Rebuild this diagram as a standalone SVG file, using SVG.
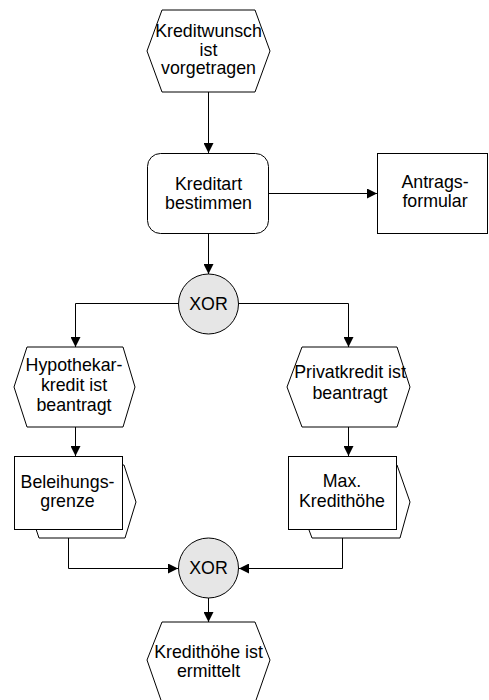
<svg xmlns="http://www.w3.org/2000/svg" width="489" height="700" viewBox="0 0 489 700">
  <style>
    .shape { fill: #ffffff; stroke: #000000; stroke-width: 1; }
    .gate { fill: #e6e6e6; stroke: #000000; stroke-width: 1; }
    .conn { fill: none; stroke: #000000; stroke-width: 1; }
    text { font-family: "Liberation Sans", Arial, sans-serif; font-size: 17.8px; fill: #000000; text-anchor: middle; }
  </style>
  <defs>
    <marker id="arrow" markerUnits="userSpaceOnUse" markerWidth="10" markerHeight="10" refX="10" refY="5" orient="auto">
      <path d="M0,0 L10,5 L0,10 z" fill="#000000"/>
    </marker>
  </defs>
  <rect width="489" height="700" fill="#ffffff"/>

  <g id="connectors">
    <path class="conn" d="M208.5,92 L208.5,153" marker-end="url(#arrow)"/>
    <path class="conn" d="M269,193.5 L377,193.5" marker-end="url(#arrow)"/>
    <path class="conn" d="M208.5,234 L208.5,274" marker-end="url(#arrow)"/>
    <path class="conn" d="M178.5,303.5 L75.5,303.5 L75.5,347" marker-end="url(#arrow)"/>
    <path class="conn" d="M238.5,303.5 L348.5,303.5 L348.5,347" marker-end="url(#arrow)"/>
    <path class="conn" d="M75.5,427 L75.5,456" marker-end="url(#arrow)"/>
    <path class="conn" d="M348.5,427 L348.5,456" marker-end="url(#arrow)"/>
    <path class="conn" d="M68.5,529 L68.5,568.5 L178,568.5" marker-end="url(#arrow)"/>
    <path class="conn" d="M342.5,529 L342.5,568.5 L239,568.5" marker-end="url(#arrow)"/>
    <path class="conn" d="M208.5,598 L208.5,622" marker-end="url(#arrow)"/>
  </g>

  <g id="kreditwunsch">
    <polygon class="shape" points="162,10 255,10 270,51 255,92 162,92 147,51"/>
    <text x="208.5" y="37">Kreditwunsch</text>
    <text x="208.5" y="55.5">ist</text>
    <text x="208.5" y="74">vorgetragen</text>
  </g>

  <g id="kreditart">
    <rect class="shape" x="147.5" y="153.5" width="121" height="80" rx="13" ry="13"/>
    <text x="208.5" y="190">Kreditart</text>
    <text x="208.5" y="208.5">bestimmen</text>
  </g>

  <g id="antragsformular">
    <rect class="shape" x="377.5" y="153.5" width="110" height="80"/>
    <text x="435" y="188">Antrags-</text>
    <text x="435" y="207">formular</text>
  </g>

  <g id="xor-split">
    <circle class="gate" cx="208.5" cy="304" r="30"/>
    <text x="208.5" y="309.5">XOR</text>
  </g>

  <g id="hypothekarkredit">
    <polygon class="shape" points="27,347 123,347 135,387 123,427 27,427 14,387"/>
    <text x="74" y="371">Hypothekar-</text>
    <text x="74" y="391">kredit ist</text>
    <text x="74" y="411">beantragt</text>
  </g>

  <g id="privatkredit">
    <polygon class="shape" points="302,347 397,347 410,387 397,427 302,427 287,387"/>
    <text x="350" y="378">Privatkredit ist</text>
    <text x="350" y="399">beantragt</text>
  </g>

  <g id="beleihungsgrenze">
    <polygon class="shape" points="36,465 124,465 136,502 125,538 39,538 36,529"/>
    <rect class="shape" x="14.5" y="456.5" width="108" height="73"/>
    <text x="67.5" y="487.5">Beleihungs-</text>
    <text x="67.5" y="507">grenze</text>
  </g>

  <g id="max-kredithoehe">
    <polygon class="shape" points="309,465 397,465 410,502 400,538 312,538 309,530"/>
    <rect class="shape" x="288.5" y="456.5" width="108" height="73"/>
    <text x="342" y="487">Max.</text>
    <text x="342" y="507">Kredithöhe</text>
  </g>

  <g id="xor-join">
    <circle class="gate" cx="208.5" cy="568" r="30"/>
    <text x="208.5" y="573.5">XOR</text>
  </g>

  <g id="kredithoehe-ermittelt">
    <polygon class="shape" points="162,622 255,622 270,660 255,703 162,703 147,660"/>
    <text x="208.5" y="657.5">Kredithöhe ist</text>
    <text x="208.5" y="677">ermittelt</text>
  </g>
</svg>
